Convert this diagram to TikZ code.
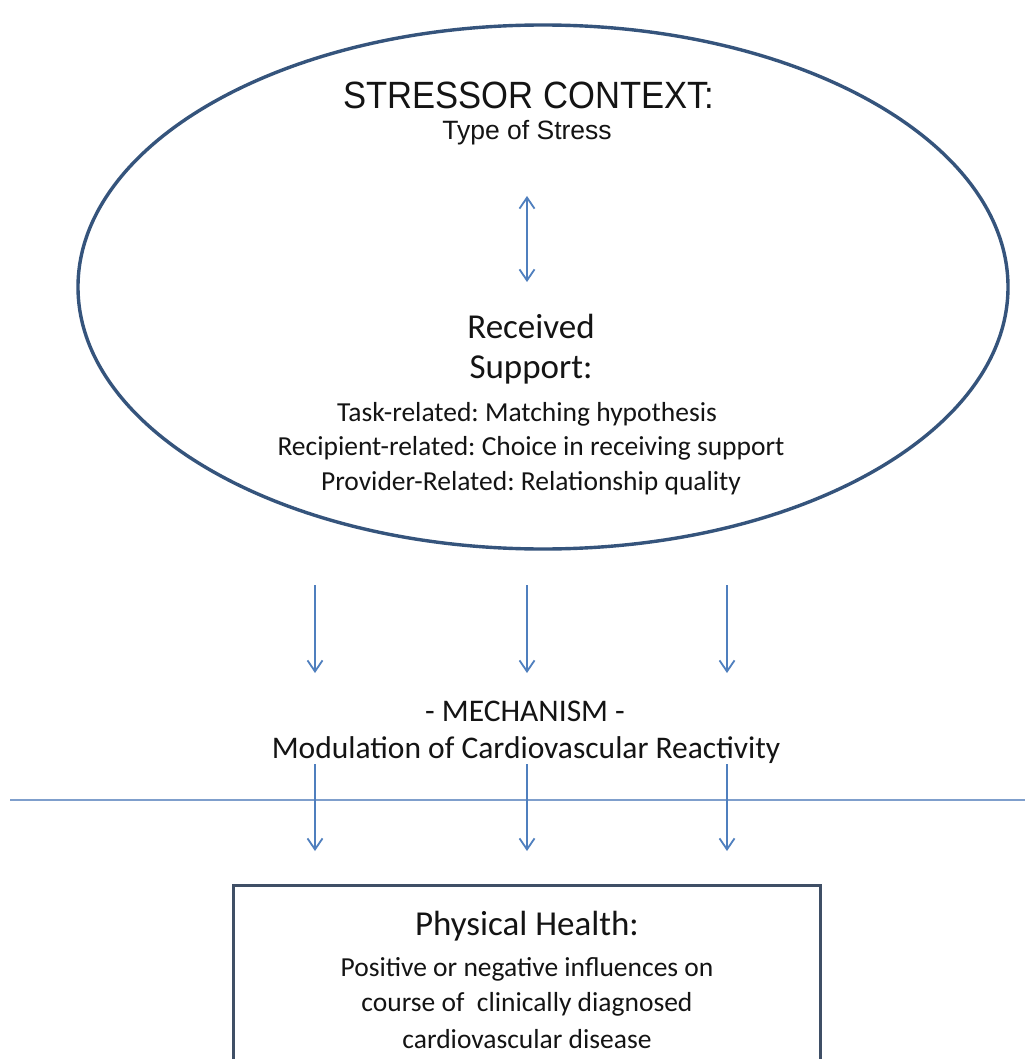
\documentclass[tikz,border=0pt]{standalone}
\usepackage{fontspec}
\setmainfont{Carlito}
\newfontfamily\arialfont{Liberation Sans}
\usetikzlibrary{arrows.meta}
\frenchspacing
\definecolor{ringblue}{HTML}{35547C}
\definecolor{arrowblue}{HTML}{4F7FBE}
\definecolor{lineblue}{HTML}{7F9FCC}
\definecolor{boxgray}{HTML}{3F4F66}
\definecolor{txt}{HTML}{141414}
\tikzset{
  flow/.style={draw=arrowblue, line width=1.8pt, -{Straight Barb[length=11pt,width=15pt,line width=1.8pt]}},
  flowboth/.style={draw=arrowblue, line width=1.8pt, {Straight Barb[length=11pt,width=15pt,line width=1.8pt]}-{Straight Barb[length=11pt,width=15pt,line width=1.8pt]}},
  label/.style={text=txt, inner sep=0pt, align=center},
  big/.style={label, font=\fontsize{35}{38}\selectfont},
  body/.style={label, font=\fontsize{27.5}{30}\selectfont},
  mid/.style={label, font=\fontsize{31.5}{34}\selectfont},
}
\begin{document}
\begin{tikzpicture}[x=1pt,y=-1pt]
\useasboundingbox (0,0) rectangle (1025,1059);
\fill[white] (0,0) rectangle (1025,1059);

% outer ellipse
\draw[ringblue, line width=3.4pt] (543,287) ellipse [x radius=465, y radius=262];

% stressor context
\node[label, font=\arialfont\fontsize{38}{40}\selectfont] (stressor) at (529,95) {\scalebox{0.91}[1]{STRESSOR CONTEXT:}};
\node[label, font=\arialfont\fontsize{26.5}{29}\selectfont] (type) at (527,133) {Type of Stress};

\coordinate (bt) at (527,196);
\coordinate (bb) at (527,282);
\draw[flowboth] (bt) -- (bb);

% received support
\node[big] (received) at (531,326) {Received};
\node[big] (support) at (531,370) {Support:};
\node[body] (task) at (527,414) {Task-related: Matching hypothesis};
\node[body] (recip) at (531,448) {Recipient-related: Choice in receiving support};
\node[body] (prov) at (531,483) {Provider-Related: Relationship quality};

% arrows towards the mechanism
\foreach \i/\x in {1/315,2/527,3/727}{
  \coordinate (u\i) at (\x,585);
  \coordinate (d\i) at (\x,673);
  \draw[flow] (u\i) -- (d\i);
}

\node[mid] (mech) at (525,711) {- MECHANISM -};
\node[mid] (modul) at (526,750) {Modulation of Cardiovascular Reactivity};

% divider
\coordinate (hl) at (10,800);
\coordinate (hr) at (1025,800);
\draw[lineblue, line width=2.2pt] (hl) -- (hr);

% arrows towards physical health
\foreach \i/\x in {1/315,2/527,3/727}{
  \coordinate (s\i) at (\x,764);
  \coordinate (e\i) at (\x,851);
  \draw[flow] (s\i) -- (e\i);
}

% physical health box (runs past the lower edge)
\draw[boxgray, line width=3pt] (233,1070) -- (233,885) -- (820,885) -- (820,1070);
\node[big] (health) at (527,926) {Physical Health:};
\node[body] (h1) at (527,969) {Positive or negative influences on};
\node[body] (h2) at (527,1004) {course of\ \ clinically diagnosed};
\node[body] (h3) at (527,1039) {cardiovascular disease};
\end{tikzpicture}
\end{document}
